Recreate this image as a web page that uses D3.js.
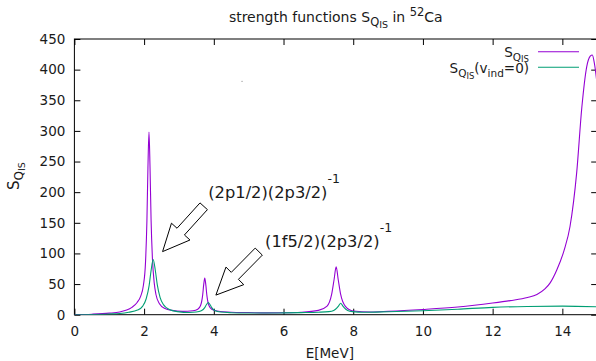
<!DOCTYPE html>
<html>
<head>
<meta charset="utf-8">
<script src="https://cdn.jsdelivr.net/npm/d3@7"></script>
<style>
  body { margin: 0; background: #fff; }
  text { font-family: "DejaVu Sans", sans-serif; fill: #1a1a1a; }
</style>
</head>
<body>
<script>
// S_QIS strength function (E [MeV], S)
const sqis = [
  [0,0],[0.5,0.8],[1.0,2.5],[1.3,4.5],[1.5,7.5],[1.65,12],[1.8,20],[1.9,30],[1.98,48],
  [2.04,85],[2.08,152],[2.11,240],[2.14,298],[2.17,240],[2.2,155],[2.24,90],[2.29,52],
  [2.34,33],[2.44,18],[2.6,10],[2.8,7],[3.1,5.5],[3.4,6.5],[3.54,9],[3.62,15],[3.68,32],
  [3.71,49],[3.74,60],[3.77,49],[3.8,32],[3.86,15],[3.94,9],[4.1,6],[4.5,4],[5,3.5],
  [5.5,3],[6,3.2],[6.5,4],[7.0,7],[7.25,14],[7.38,33],[7.45,57],[7.51,78],[7.57,57],
  [7.64,33],[7.77,14],[8.0,6],[8.5,4.5],[9,5.5],[10,8.5],[11,12.5],[12,19],[12.5,23],
  [13.0,28],[13.27,33],[13.5,42],[13.65,52],[13.84,73],[14.05,105],[14.22,144],[14.41,231],
  [14.56,339],[14.7,405],[14.8,422],[14.86,424],[14.92,410],[15,375]
];
// S_QIS with v_ind = 0
const sqisFree = [
  [0,0],[0.5,0.4],[1.0,1.2],[1.3,2],[1.56,4],[1.81,7.5],[1.96,14],[2.06,26],[2.145,48],
  [2.2,72],[2.26,90],[2.32,73],[2.375,50],[2.46,28],[2.56,16],[2.71,9],[2.96,5],[3.3,3.6],
  [3.49,4.3],[3.64,6.4],[3.74,11.5],[3.79,16.6],[3.84,20],[3.89,16.6],[3.94,11.5],
  [4.04,6.4],[4.19,4.3],[4.5,3.3],[5,2.8],[5.5,2.7],[6,3],[6.5,3.4],[7,4],[7.3,5],
  [7.44,7],[7.54,11.5],[7.59,15.2],[7.64,18.6],[7.69,15.2],[7.74,11.5],[7.84,7],
  [7.98,5],[8.3,4],[9,4.8],[10,6.5],[11,9],[12,12],[13,13.5],[14,14],[15,13]
];
const xTicks = [0, 2, 4, 6, 8, 10, 12, 14];
const yTicks = [0, 50, 100, 150, 200, 250, 300, 350, 400, 450];
// arrows: tail -> tip, in data units
const arrows = [
  { from: [3.71, 177], to: [2.53, 103] },
  { from: [5.29, 103], to: [4.06, 32] }
];
const notes = [
  { at: [3.84, 190], text: "(2p1/2)(2p3/2)" },
  { at: [5.47, 111], text: "(1f5/2)(2p3/2)" }
];

const W = 596, H = 361;
const x = d3.scaleLinear().domain([0, 15]).range([74.4, 597.2]);
const y = d3.scaleLinear().domain([0, 450]).range([314.7, 39]);

const svg = d3.select("body").append("svg")
  .attr("width", W).attr("height", H);

svg.append("defs").append("clipPath").attr("id", "plotclip")
  .append("rect")
  .attr("x", x(0)).attr("y", y(450))
  .attr("width", x(15) - x(0)).attr("height", y(0) - y(450));

// axes, ticks pointing inwards like gnuplot
const tick = 6;
svg.append("g").attr("transform", `translate(0,${y(0)})`)
  .call(d3.axisBottom(x).tickValues(xTicks).tickSize(-tick).tickSizeOuter(0).tickPadding(12));
svg.append("g").attr("transform", `translate(${x(0)},0)`)
  .call(d3.axisLeft(y).tickValues(yTicks).tickSize(-tick).tickSizeOuter(0).tickPadding(9));
svg.append("g").attr("transform", `translate(0,${y(450)})`)
  .call(d3.axisTop(x).tickValues(xTicks).tickSize(-tick).tickSizeOuter(0).tickFormat(""));
svg.append("g").attr("transform", `translate(${x(15)},0)`)
  .call(d3.axisRight(y).tickValues(yTicks).tickSize(-tick).tickSizeOuter(0).tickFormat(""));

svg.selectAll(".domain").remove();
svg.selectAll(".tick line").attr("stroke", "#000");
svg.selectAll(".tick text").style("font-size", "13.5px").attr("fill", "#1a1a1a");

svg.append("rect")
  .attr("x", x(0)).attr("y", y(450))
  .attr("width", x(15) - x(0)).attr("height", y(0) - y(450))
  .attr("fill", "none").attr("stroke", "#000").attr("stroke-width", 1);

// helper for sub/superscripts
function rich(sel, parts) {
  parts.forEach(p => {
    sel.append("tspan")
      .attr("dy", p.dy || 0)
      .style("font-size", p.size + "px")
      .text(p.t);
  });
}

// curves
const line = d3.line()
  .x(d => x(d[0])).y(d => y(d[1]))
  .curve(d3.curveMonotoneX);

const plot = svg.append("g").attr("clip-path", "url(#plotclip)");
plot.append("path").datum(sqis)
  .attr("d", line).attr("fill", "none")
  .attr("stroke", "#9400d3").attr("stroke-width", 1.1);
plot.append("path").datum(sqisFree)
  .attr("d", line).attr("fill", "none")
  .attr("stroke", "#009e73").attr("stroke-width", 1.1);

// block arrows
function arrowPoints(a) {
  const x0 = x(a.from[0]), y0 = y(a.from[1]);
  const x1 = x(a.to[0]), y1 = y(a.to[1]);
  const len = Math.hypot(x1 - x0, y1 - y0);
  const ux = (x1 - x0) / len, uy = (y1 - y0) / len;
  const nx = -uy, ny = ux;
  const w = 5, hw = 12.5, hl = 27;
  const bx = x1 - ux * hl, by = y1 - uy * hl;
  return [
    [x0 + nx * w, y0 + ny * w],
    [bx + nx * w, by + ny * w],
    [bx + nx * hw, by + ny * hw],
    [x1, y1],
    [bx - nx * hw, by - ny * hw],
    [bx - nx * w, by - ny * w],
    [x0 - nx * w, y0 - ny * w]
  ];
}
svg.selectAll(".arrow").data(arrows).join("polygon")
  .attr("class", "arrow")
  .attr("points", d => arrowPoints(d).map(p => p.join(",")).join(" "))
  .attr("fill", "#fff").attr("stroke", "#000").attr("stroke-width", 1);

notes.forEach(n => {
  const t = svg.append("text")
    .attr("x", x(n.at[0])).attr("y", y(n.at[1]));
  rich(t, [
    { t: n.text, size: 16.3 },
    { t: "-1", size: 12.5, dy: -15 }
  ]);
});

// tiny stray dot in the original
svg.append("circle").attr("cx", x(4.81)).attr("cy", y(381)).attr("r", 0.6).attr("fill", "#777");

// title
const title = svg.append("text")
  .attr("x", (x(0) + x(15)) / 2).attr("y", 21.5)
  .attr("text-anchor", "middle");
rich(title, [
  { t: "strength functions S", size: 14 },
  { t: "Q", size: 11.5, dy: 4 },
  { t: "IS", size: 9.5, dy: 2 },
  { t: " in ", size: 14, dy: -6 },
  { t: "52", size: 11.5, dy: -6 },
  { t: "Ca", size: 14, dy: 6 }
]);

// axis titles
svg.append("text")
  .attr("x", (x(0) + x(15)) / 2 - 6).attr("y", 358)
  .attr("text-anchor", "middle")
  .style("font-size", "13.5px")
  .text("E[MeV]");

const ylab = svg.append("text")
  .attr("transform", `translate(19,176) rotate(-90)`)
  .attr("text-anchor", "middle");
rich(ylab, [
  { t: "S", size: 15 },
  { t: "Q", size: 12, dy: 4 },
  { t: "IS", size: 9.5, dy: 2 }
]);

// legend
const legendX = 529, lineX0 = 538, lineX1 = 579;
const lg1 = svg.append("text").attr("x", legendX).attr("y", 57).attr("text-anchor", "end");
rich(lg1, [
  { t: "S", size: 13.5 },
  { t: "Q", size: 10.5, dy: 3.5 },
  { t: "IS", size: 8.5, dy: 1.5 }
]);
svg.append("line").attr("x1", lineX0).attr("x2", lineX1).attr("y1", 51.7).attr("y2", 51.7)
  .attr("stroke", "#9400d3").attr("stroke-width", 1.1);

const lg2 = svg.append("text").attr("x", legendX).attr("y", 73).attr("text-anchor", "end");
rich(lg2, [
  { t: "S", size: 13.5 },
  { t: "Q", size: 10.5, dy: 4 },
  { t: "IS", size: 8.5, dy: 2 },
  { t: "(v", size: 13.5, dy: -6 },
  { t: "ind", size: 10.5, dy: 4 },
  { t: "=0)", size: 13.5, dy: -4 }
]);
svg.append("line").attr("x1", lineX0).attr("x2", lineX1).attr("y1", 67.3).attr("y2", 67.3)
  .attr("stroke", "#009e73").attr("stroke-width", 1.1);
</script>
</body>
</html>
